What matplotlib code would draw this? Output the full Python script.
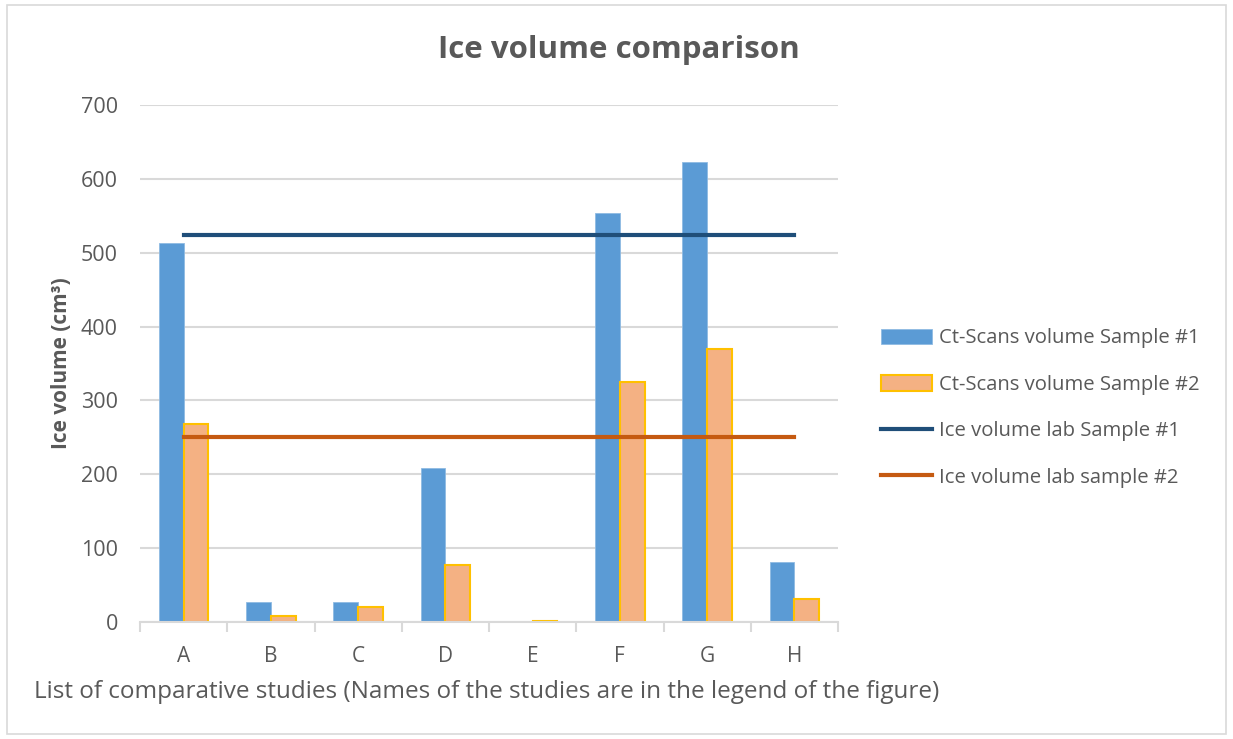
import matplotlib
matplotlib.use("Agg")
import matplotlib.pyplot as plt
import matplotlib.patches as mpatches
import numpy as np

plt.rcParams["font.family"] = ["Open Sans", "DejaVu Sans"]

# Study labels and measured ice volumes (cm3)
studies = ["A", "B", "C", "D", "E", "F", "G", "H"]
ct_sample1 = [513, 27, 27, 208, 2, 554, 623, 81]
ct_sample2 = [268, 8, 20, 77, 1, 325, 370, 31]
lab_sample1 = [524] * len(studies)
lab_sample2 = [250] * len(studies)
yticks = [0, 100, 200, 300, 400, 500, 600, 700]

text_grey = "#595959"
grid_grey = "#d9d9d9"

fig = plt.figure(figsize=(12.33, 7.39), dpi=100)
ax = fig.add_axes([140 / 1233, 1 - 622 / 739, 698 / 1233, 517 / 739])

# light frame round the whole chart area
fig.patches.append(mpatches.Rectangle((7 / 1233, 5 / 739), 1219 / 1233, 729 / 739,
                                      transform=fig.transFigure, fill=False,
                                      edgecolor="#d9d9d9", linewidth=1.2))

x = np.arange(len(studies))
width = 0.285

b1 = ax.bar(x - width / 2, ct_sample1, width, color="#5b9bd5", edgecolor="#8fbbe3",
            linewidth=0.6, label="Ct-Scans volume Sample #1", zorder=2)
b2 = ax.bar(x + width / 2, ct_sample2, width, color="#f4b183", edgecolor="#ffc000",
            linewidth=1.5, label="Ct-Scans volume Sample #2", zorder=2)
l1, = ax.plot(x, lab_sample1, color="#1f4e79", linewidth=3,
              label="Ice volume lab Sample #1", zorder=3)
l2, = ax.plot(x, lab_sample2, color="#c55a11", linewidth=3,
              label="Ice volume lab sample #2", zorder=3)

ax.set_xlim(-0.5, len(studies) - 0.5)
ax.set_ylim(0, 700)
ax.set_yticks(yticks)
ax.yaxis.grid(True, color=grid_grey, linewidth=1.5, zorder=0)
ax.set_axisbelow(True)

ax.set_xticks(x)
ax.set_xticklabels(studies)
ax.set_xticks(np.arange(-0.5, len(studies)), minor=True)
ax.tick_params(axis="x", which="major", length=0, pad=17, labelsize=15, labelcolor=text_grey)
ax.tick_params(axis="x", which="minor", length=7, width=1.5, color=grid_grey)
ax.tick_params(axis="y", length=0, pad=16, labelsize=15.5, labelcolor=text_grey)

for side in ["top", "right", "left"]:
    ax.spines[side].set_visible(False)
ax.spines["bottom"].set_color(grid_grey)
ax.spines["bottom"].set_linewidth(1.5)

ax.set_ylabel("Ice volume (cm³)", fontsize=15, fontweight="bold", color=text_grey, labelpad=6)
fig.text(487 / 1233, 1 - 692 / 739,
         "List of comparative studies (Names of the studies are in the legend of the figure)",
         ha="center", va="center", fontsize=17.5, color=text_grey)
fig.text(619 / 1233, 1 - 50 / 739, "Ice volume comparison", ha="center", va="center",
         fontsize=22.5, fontweight="bold", color=text_grey)

leg = ax.legend(handles=[b1, b2, l1, l2], loc="center left",
                bbox_to_anchor=(863 / 1233, 1 - 408 / 739),
                bbox_transform=fig.transFigure, frameon=False, fontsize=14.6,
                labelspacing=1.3, handlelength=2.5, handleheight=0.8, handletextpad=0.35)
for t in leg.get_texts():
    t.set_color(text_grey)

fig.savefig("out.png", dpi=100)
